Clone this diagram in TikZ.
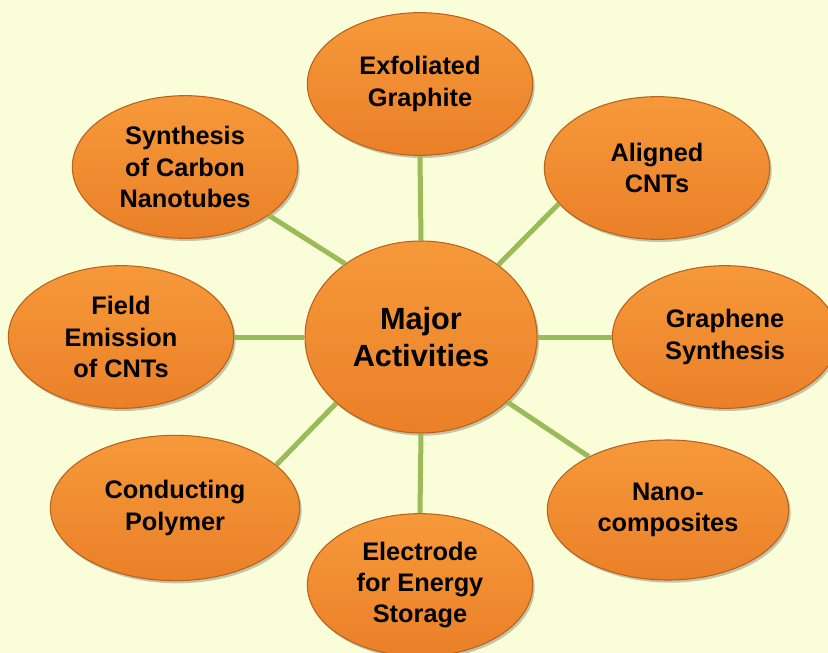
\documentclass[tikz,border=0pt]{standalone}
\usepackage{fontspec}
\setmainfont{Liberation Sans}
\usetikzlibrary{shapes.geometric, shadows, positioning}
\definecolor{bgyellow}{RGB}{249,253,216}
\definecolor{linkgreen}{RGB}{155,187,89}
\definecolor{orangetop}{RGB}{246,153,58}
\definecolor{orangebot}{RGB}{234,128,40}
\definecolor{orangerim}{RGB}{185,98,30}

\begin{document}
\begin{tikzpicture}[x=0.75pt, y=-0.75pt, every node/.style={font=\bfseries\fontsize{19}{23.5}\selectfont, align=center},
  activity/.style={ellipse, draw=orangerim, line width=0.8pt, top color=orangetop, bottom color=orangebot, inner sep=0pt, minimum width=169pt, minimum height=107pt, drop shadow={shadow xshift=1.5pt, shadow yshift=-2pt, opacity=0.22, fill=black}},
  link/.style={draw=linkgreen, line width=3.75pt}]
\clip (0,0) rectangle (828,653);
\fill[bgyellow] (0,0) rectangle (828,653);

\node (major) [activity, minimum width=174pt, minimum height=144pt, font=\bfseries\fontsize{23}{28}\selectfont] at (421,337) {Major \\ Activities};
\node (exfoliated) [activity] at (420,84) {Exfoliated \\ Graphite};
\node (aligned) [activity] at (657,168) {Aligned \\ CNTs};
\node (graphene) [activity] at (725,337) {Graphene \\ Synthesis};
\node (nano) [activity, minimum width=181pt, minimum height=105pt] at (668,510) {Nano- \\ composites};
\node (electrode) [activity] at (420,585) {Electrode \\ for Energy \\ Storage};
\node (conducting) [activity, minimum width=187pt, minimum height=109pt] at (175,508) {Conducting \\ Polymer};
\node (fieldem) [activity] at (121,337) {Field \\ Emission \\ of CNTs};
\node (synthesis) [activity] at (185,167) {Synthesis \\ of Carbon \\ Nanotubes};

\draw[link] (major.90) -- (exfoliated.270);
\draw[link] (major.43) -- (aligned.200);
\draw[link] (major.0) -- (graphene.180);
\draw[link] (major.323) -- (nano.146);
\draw[link] (major.270) -- (electrode.90);
\draw[link] (major.218) -- (conducting.23);
\draw[link] (major.180) -- (fieldem.0);
\draw[link] (major.136) -- (synthesis.330);
\end{tikzpicture}
\end{document}
